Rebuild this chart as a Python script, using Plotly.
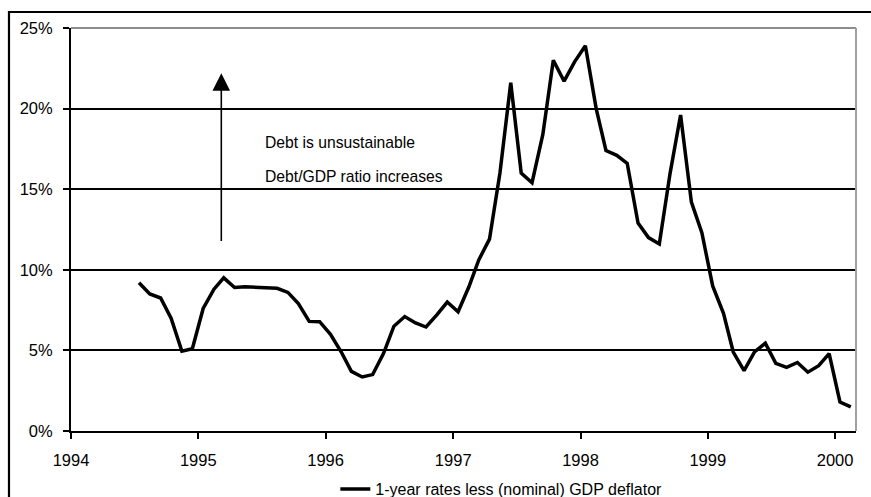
import pandas as pd
import plotly.graph_objects as go

# Monthly observations, Jul 1994 .. Feb 2000 (mid-month)
months = pd.date_range(start="1994-07-15", periods=68, freq=pd.DateOffset(months=1)).strftime("%Y-%m-%d").tolist()

real_rate = [
    9.2, 8.5, 8.25, 7.0, 4.95, 5.1,                                   # 1994 Jul-Dec
    7.6, 8.8, 9.5, 8.9, 8.95, 8.9, 8.9, 8.85, 8.6, 7.9, 6.8, 6.78,   # 1995
    6.0, 4.9, 3.7, 3.35, 3.5, 4.8, 6.5, 7.1, 6.7, 6.45, 7.2, 8.0,    # 1996
    7.4, 8.95, 10.6, 11.9, 16.0, 21.6, 16.0, 15.4, 18.4, 23.0, 21.7, 22.9,  # 1997
    23.9, 20.0, 17.4, 17.1, 16.6, 12.9, 12.0, 11.6, 16.0, 19.6, 14.2, 12.3,  # 1998
    9.0, 7.3, 4.9, 3.75, 4.9, 5.45, 4.2, 3.95, 4.25, 3.65, 4.05, 4.8,  # 1999
    1.8, 1.5,                                                          # 2000 Jan-Feb
]

series_name = "1-year rates less (nominal) GDP deflator"
y_ticks = [0, 5, 10, 15, 20, 25]
y_tick_labels = ["0%", "5%", "10%", "15%", "20%", "25%"]
x_ticks = ["1994-01-01", "1995-01-01", "1996-01-01", "1997-01-01", "1998-01-01", "1999-01-01", "2000-01-01"]
x_tick_labels = ["1994", "1995", "1996", "1997", "1998", "1999", "2000"]
note_lines = ["Debt is unsustainable", "Debt/GDP ratio increases"]

FONT = "Liberation Sans, Arial, sans-serif"

fig = go.Figure()
fig.add_trace(go.Scatter(
    x=months, y=real_rate, mode="lines", name=series_name,
    line=dict(color="black", width=3.5), showlegend=True,
))

fig.update_layout(
    width=871, height=497,
    margin=dict(l=71, r=15, t=28, b=66, autoexpand=False),
    paper_bgcolor="white", plot_bgcolor="white",
    font=dict(family=FONT, size=16, color="black"),
    showlegend=True,
    legend=dict(
        orientation="h", xref="container", yref="container",
        x=0.385, y=0.016, xanchor="left", yanchor="middle",
        font=dict(size=16), bgcolor="rgba(0,0,0,0)",
        itemwidth=30,
    ),
    xaxis=dict(
        type="date", range=["1994-01-01", "2000-03-01"],
        tickmode="array", tickvals=x_ticks, ticktext=x_tick_labels,
        ticks="outside", ticklen=6, tickwidth=1.5, tickcolor="black",
        showline=True, linecolor="black", linewidth=2,
        showgrid=False, zeroline=False, automargin=False,
        tickfont=dict(size=16.5), ticklabelstandoff=7,
    ),
    yaxis=dict(
        range=[0, 25], tickmode="array", tickvals=y_ticks, ticktext=y_tick_labels,
        ticks="outside", ticklen=6, tickwidth=1.5, tickcolor="black",
        showline=True, linecolor="black", linewidth=2, automargin=False,
        showgrid=True, gridcolor="black", gridwidth=1.8, zeroline=False,
        tickfont=dict(size=16.5), ticklabelstandoff=7,
    ),
)

# gray frame on top and right of plot area
fig.add_shape(type="line", xref="paper", yref="paper", x0=0, x1=1, y0=1, y1=1,
              line=dict(color="#8c8c8c", width=2.2), layer="above")
fig.add_shape(type="line", xref="paper", yref="paper", x0=1, x1=1, y0=0, y1=1,
              line=dict(color="#a0a0a0", width=2), layer="above")
# outer chart frame
fig.add_shape(type="rect", xref="paper", yref="paper",
              x0=-0.079, x1=1.2, y0=-0.3, y1=1.0397,
              line=dict(color="black", width=2.2), fillcolor="rgba(0,0,0,0)", layer="below")

# arrow
fig.add_annotation(x="1995-03-08", y=22.2, ax="1995-03-08", ay=11.7,
                   xref="x", yref="y", axref="x", ayref="y",
                   text="", showarrow=True, arrowhead=2, arrowsize=2.2,
                   arrowwidth=1.6, arrowcolor="black")
fig.add_annotation(x="1995-07-05", y=17.9, xref="x", yref="y", text=note_lines[0],
                   showarrow=False, xanchor="left", yanchor="middle", font=dict(size=15.7))
fig.add_annotation(x="1995-07-05", y=15.8, xref="x", yref="y", text=note_lines[1],
                   showarrow=False, xanchor="left", yanchor="middle", font=dict(size=15.7))

fig.write_html("out.html")
